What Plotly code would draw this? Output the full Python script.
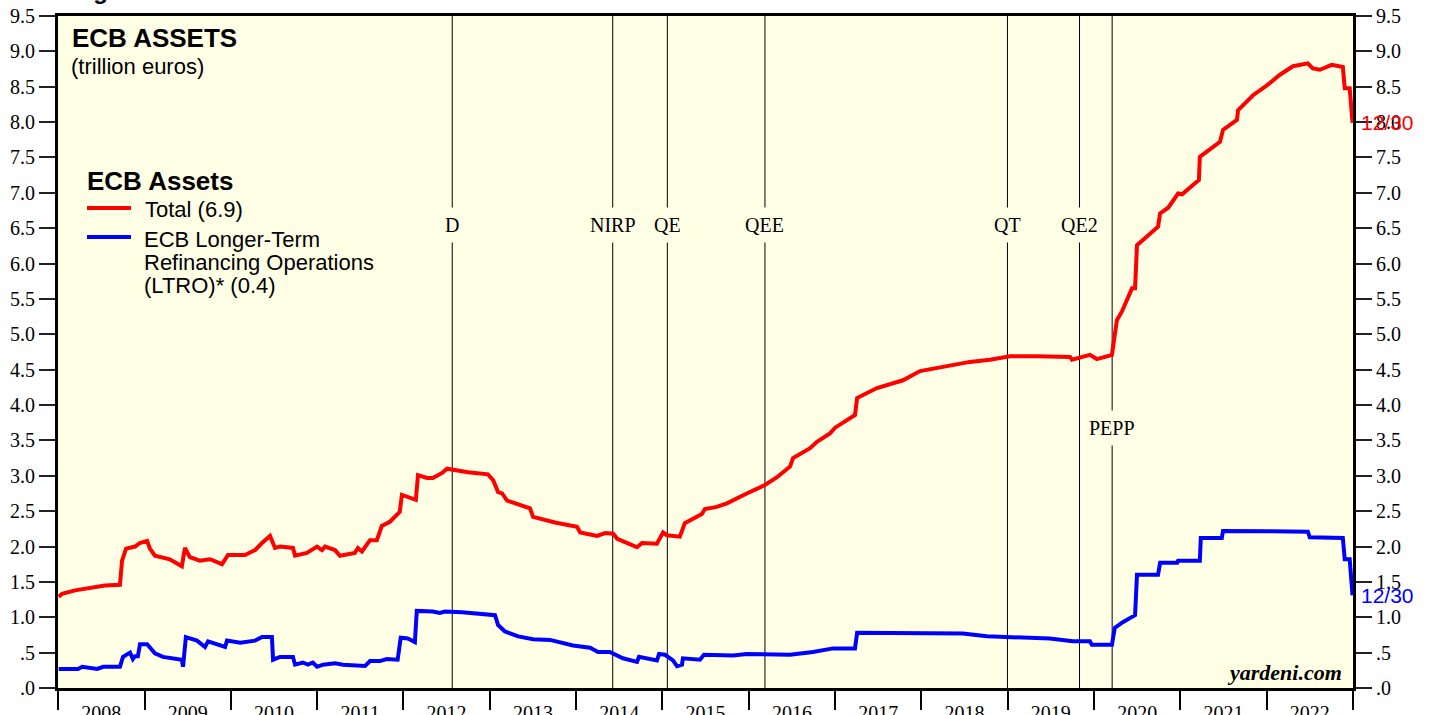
import plotly.graph_objects as go

# ---------------- data ----------------
total_dates = [
    "2008-01-04", "2008-01-18", "2008-03-13", "2008-05-16", "2008-07-18", "2008-09-19", "2008-09-28",
    "2008-10-15", "2008-11-22", "2008-12-12", "2009-01-12", "2009-01-24", "2009-02-14", "2009-04-18",
    "2009-05-22", "2009-06-08", "2009-06-21", "2009-07-12", "2009-08-23", "2009-10-05", "2009-11-25",
    "2009-12-20", "2010-03-02", "2010-04-14", "2010-05-13", "2010-06-16", "2010-07-07", "2010-07-28",
    "2010-09-21", "2010-09-30", "2010-11-19", "2011-01-01", "2011-01-22", "2011-02-04", "2011-03-18",
    "2011-04-08", "2011-06-10", "2011-06-23", "2011-07-10", "2011-08-13", "2011-09-11", "2011-10-02",
    "2011-11-05", "2011-12-17", "2011-12-26", "2012-01-16", "2012-02-23", "2012-03-03", "2012-04-10",
    "2012-05-05", "2012-06-13", "2012-07-04", "2012-08-28", "2012-10-01", "2012-12-24", "2013-01-15",
    "2013-02-05", "2013-02-22", "2013-03-15", "2013-05-09", "2013-06-20", "2013-07-03", "2013-08-14",
    "2013-10-04", "2014-01-05", "2014-01-18", "2014-03-31", "2014-05-04", "2014-06-07", "2014-06-24",
    "2014-08-26", "2014-09-16", "2014-10-07", "2014-12-09", "2015-01-04", "2015-01-20", "2015-03-16",
    "2015-04-06", "2015-06-17", "2015-06-30", "2015-08-19", "2015-10-01", "2015-12-24", "2016-03-10",
    "2016-04-30", "2016-06-24", "2016-07-07", "2016-09-17", "2016-10-16", "2016-12-10", "2017-01-01",
    "2017-03-26", "2017-04-04", "2017-06-27", "2017-10-15", "2017-12-26", "2018-04-02", "2018-07-25",
    "2018-10-18", "2019-01-11", "2019-05-05", "2019-09-22", "2019-09-30", "2019-12-15", "2020-01-13",
    "2020-03-17", "2020-04-07", "2020-04-28", "2020-06-10", "2020-06-23", "2020-07-01", "2020-09-16",
    "2020-09-28", "2020-10-07", "2020-11-10", "2020-12-22", "2021-01-08", "2021-02-19", "2021-03-20",
    "2021-03-24", "2021-06-17", "2021-06-30", "2021-08-28", "2021-09-02", "2021-11-04", "2022-01-02",
    "2022-02-26", "2022-04-22", "2022-06-24", "2022-07-15", "2022-08-14", "2022-10-03", "2022-11-19",
    "2022-11-27", "2022-12-18", "2022-12-30",
]
total_values = [
    1.29, 1.33, 1.38, 1.42, 1.45, 1.46, 1.80,
    1.97, 2.00, 2.05, 2.08, 1.97, 1.87, 1.82,
    1.75, 1.72, 1.98, 1.85, 1.80, 1.82, 1.75,
    1.88, 1.88, 1.95, 2.05, 2.15, 1.98, 2.00,
    1.98, 1.87, 1.91, 2.00, 1.95, 2.00, 1.95,
    1.87, 1.91, 1.98, 1.93, 2.09, 2.09, 2.29,
    2.35, 2.49, 2.73, 2.71, 2.66, 3.01, 2.97,
    2.97, 3.04, 3.10, 3.07, 3.05, 3.02, 2.94,
    2.77, 2.75, 2.65, 2.59, 2.54, 2.42, 2.38,
    2.34, 2.28, 2.20, 2.15, 2.19, 2.18, 2.11,
    2.02, 1.99, 2.05, 2.04, 2.20, 2.16, 2.14,
    2.33, 2.46, 2.53, 2.56, 2.61, 2.75, 2.87,
    2.98, 3.13, 3.25, 3.39, 3.48, 3.60, 3.68,
    3.86, 4.10, 4.24, 4.35, 4.48, 4.54, 4.61,
    4.64, 4.69, 4.69, 4.68, 4.64, 4.71, 4.65,
    4.71, 5.20, 5.32, 5.65, 5.65, 6.26, 6.47,
    6.52, 6.71, 6.79, 6.99, 6.98, 7.10, 7.18,
    7.51, 7.72, 7.89, 8.03, 8.17, 8.38, 8.52,
    8.67, 8.79, 8.83, 8.76, 8.74, 8.81, 8.78,
    8.48, 8.48, 7.99,
]

ltro_dates = [
    "2008-01-04", "2008-03-26", "2008-04-12", "2008-06-06", "2008-06-15", "2008-07-10", "2008-09-19",
    "2008-10-02", "2008-11-01", "2008-11-13", "2008-11-22", "2008-12-04", "2008-12-13", "2009-01-12",
    "2009-02-14", "2009-03-20", "2009-05-18", "2009-06-08", "2009-06-13", "2009-06-25", "2009-08-11",
    "2009-09-14", "2009-09-27", "2009-10-26", "2009-12-08", "2009-12-16", "2010-02-10", "2010-04-14",
    "2010-05-13", "2010-06-24", "2010-06-29", "2010-07-28", "2010-09-21", "2010-09-30", "2010-11-02",
    "2010-11-23", "2010-12-14", "2011-01-01", "2011-01-26", "2011-03-18", "2011-04-21", "2011-07-23",
    "2011-08-13", "2011-09-24", "2011-10-23", "2011-12-08", "2011-12-21", "2012-01-20", "2012-02-19",
    "2012-02-27", "2012-05-05", "2012-06-03", "2012-06-25", "2012-09-05", "2013-01-23", "2013-02-05",
    "2013-03-06", "2013-05-01", "2013-07-03", "2013-09-13", "2013-12-19", "2014-03-01", "2014-04-04",
    "2014-05-24", "2014-07-18", "2014-09-16", "2014-09-24", "2014-12-09", "2014-12-18", "2015-01-12",
    "2015-02-15", "2015-03-04", "2015-03-25", "2015-03-29", "2015-06-09", "2015-06-26", "2015-10-27",
    "2015-12-24", "2016-05-13", "2016-06-24", "2016-09-29", "2016-12-23", "2017-03-26", "2017-04-04",
    "2018-06-25", "2018-10-05", "2019-06-28", "2019-10-04", "2019-12-15", "2019-12-23", "2020-03-17",
    "2020-03-29", "2020-05-02", "2020-06-23", "2020-07-01", "2020-09-28", "2020-10-07", "2020-12-18",
    "2020-12-22", "2021-03-24", "2021-03-28", "2021-06-25", "2021-06-30", "2021-12-16", "2022-06-24",
    "2022-07-02", "2022-11-19", "2022-11-27", "2022-12-18", "2022-12-30",
]
ltro_values = [
    0.27, 0.27, 0.30, 0.28, 0.27, 0.30, 0.30,
    0.44, 0.50, 0.41, 0.45, 0.45, 0.62, 0.62,
    0.49, 0.44, 0.40, 0.40, 0.30, 0.72, 0.67,
    0.58, 0.66, 0.63, 0.58, 0.67, 0.64, 0.67,
    0.72, 0.72, 0.40, 0.44, 0.44, 0.33, 0.36,
    0.33, 0.36, 0.30, 0.33, 0.35, 0.33, 0.31,
    0.38, 0.38, 0.41, 0.40, 0.71, 0.70, 0.65,
    1.09, 1.08, 1.06, 1.08, 1.07, 1.03, 0.89,
    0.80, 0.73, 0.69, 0.68, 0.60, 0.57, 0.51,
    0.51, 0.42, 0.37, 0.44, 0.39, 0.48, 0.47,
    0.39, 0.31, 0.33, 0.42, 0.40, 0.47, 0.46,
    0.48, 0.47, 0.47, 0.51, 0.56, 0.56, 0.78,
    0.77, 0.73, 0.70, 0.66, 0.66, 0.61, 0.61,
    0.85, 0.93, 1.03, 1.60, 1.60, 1.77, 1.77,
    1.80, 1.80, 2.12, 2.12, 2.22, 2.21, 2.21,
    2.13, 2.12, 1.82, 1.82, 1.31,
]

event_dates = ["2012-07-26", "2014-06-05", "2015-01-22", "2016-03-10", "2018-12-31", "2019-11-01", "2020-03-18"]
event_labels = ["D", "NIRP", "QE", "QEE", "QT", "QE2", "PEPP"]

y_ticks = [i * 0.5 for i in range(20)]
y_ticktext = [".0", ".5"] + [f"{v:.1f}" for v in y_ticks[2:]]

total_name = "Total (6.9)"
ltro_name_lines = ["ECB Longer-Term", "Refinancing Operations", "(LTRO)* (0.4)"]
end_label = "12/30"

# ---------------- figure ----------------
PLOT_BG = "#FFFFE6"
SERIF = "Liberation Serif, Times New Roman, serif"
SANS = "Liberation Sans, Arial, sans-serif"

fig = go.Figure()
fig.add_trace(go.Scatter(x=total_dates, y=total_values, mode="lines",
                         line=dict(color="#FF0000", width=4), name="Total", showlegend=False))
fig.add_trace(go.Scatter(x=ltro_dates, y=ltro_values, mode="lines", yaxis="y2",
                         line=dict(color="#0000FF", width=4), name="LTRO", showlegend=False))

# event lines and labels
label_y = [6.55, 6.55, 6.55, 6.55, 6.55, 6.55, 3.68]
for d, lab, ly in zip(event_dates, event_labels, label_y):
    fig.add_shape(type="line", xref="x", yref="paper", x0=d, x1=d, y0=0, y1=1,
                  line=dict(color="black", width=1), layer="below")
    fig.add_annotation(x=d, y=ly, xref="x", yref="y", text=lab, showarrow=False,
                       font=dict(family=SERIF, size=20, color="black"),
                       bgcolor=PLOT_BG, borderpad=6)

W, H, L, T = 1295.0, 672.0, 58.0, 16.0


def px(x):
    return (x - L) / W


def py(y):
    return (T + H - y) / H


# titles
fig.add_annotation(xref="paper", yref="paper", x=px(70), y=py(38), xanchor="left", yanchor="middle",
                   text="<b>ECB ASSETS</b>", showarrow=False, font=dict(family=SANS, size=26, color="black"))
fig.add_annotation(xref="paper", yref="paper", x=px(69), y=py(67), xanchor="left", yanchor="middle",
                   text="(trillion euros)", showarrow=False, font=dict(family=SANS, size=22, color="black"))
fig.add_annotation(xref="paper", yref="paper", x=px(70), y=py(6), xanchor="left", yanchor="bottom",
                   text="<b>Figure 1.</b>", showarrow=False, font=dict(family=SANS, size=24, color="black"))

# legend (manual)
fig.add_annotation(xref="paper", yref="paper", x=px(85), y=py(181), xanchor="left", yanchor="middle",
                   text="<b>ECB Assets</b>", showarrow=False, font=dict(family=SANS, size=26, color="black"))
fig.add_shape(type="line", xref="paper", yref="paper", x0=px(87), x1=px(131), y0=py(208), y1=py(208),
              line=dict(color="#FF0000", width=4))
fig.add_shape(type="line", xref="paper", yref="paper", x0=px(87), x1=px(131), y0=py(237), y1=py(237),
              line=dict(color="#0000FF", width=4))
fig.add_annotation(xref="paper", yref="paper", x=px(143), y=py(209), xanchor="left", yanchor="middle",
                   text=total_name, showarrow=False, font=dict(family=SANS, size=22, color="black"))
for i, t in enumerate(ltro_name_lines):
    fig.add_annotation(xref="paper", yref="paper", x=px(143), y=py(239 + 23 * i), xanchor="left",
                       yanchor="middle", text=t, showarrow=False, borderpad=0,
                       font=dict(family=SANS, size=22, color="black"))

# end labels
fig.add_annotation(x=total_dates[-1], y=total_values[-1], xref="x", yref="y", xanchor="left",
                   yanchor="middle", xshift=6, text=end_label, showarrow=False,
                   font=dict(family=SANS, size=21, color="#FF0000"))
fig.add_annotation(x=ltro_dates[-1], y=ltro_values[-1], xref="x", yref="y", xanchor="left",
                   yanchor="middle", xshift=6, text=end_label, showarrow=False,
                   font=dict(family=SANS, size=21, color="#0000FF"))

# source
fig.add_annotation(xref="paper", yref="paper", x=px(1344), y=py(672), xanchor="right", yanchor="middle",
                   text="<b><i>yardeni.com</i></b>", showarrow=False,
                   font=dict(family=SERIF, size=22, color="black"))

yaxis_common = dict(range=[0, 9.5], tickvals=y_ticks, ticktext=y_ticktext, showgrid=False, zeroline=False,
                    ticks="outside", ticklen=16, tickwidth=2, tickcolor="#222", automargin=False,
                    showline=True, linewidth=3, linecolor="black",
                    tickfont=dict(family=SERIF, size=20, color="black"), fixedrange=True)

fig.update_layout(
    width=1429, height=715, autosize=False,
    margin=dict(l=58, r=76, t=16, b=27, pad=0),
    paper_bgcolor="white", plot_bgcolor=PLOT_BG,
    showlegend=False,
    xaxis=dict(type="date", range=["2008-01-01", "2023-01-01"], dtick="M12", tick0="2008-01-01",
               tickformat="%Y", ticklabelmode="period", showgrid=False, zeroline=False,
               ticks="outside", ticklen=19, tickwidth=2, tickcolor="black", ticklabelstandoff=-14,
               showline=True, linewidth=3, linecolor="black", mirror=True, automargin=False,
               tickfont=dict(family=SERIF, size=20, color="black")),
    yaxis=dict(side="left", **yaxis_common),
    yaxis2=dict(side="right", overlaying="y", **yaxis_common),
)

fig.write_html("out.html", config={"displayModeBar": False, "staticPlot": True},
               post_script="document.body.style.margin='0';document.body.style.overflow='hidden';")
